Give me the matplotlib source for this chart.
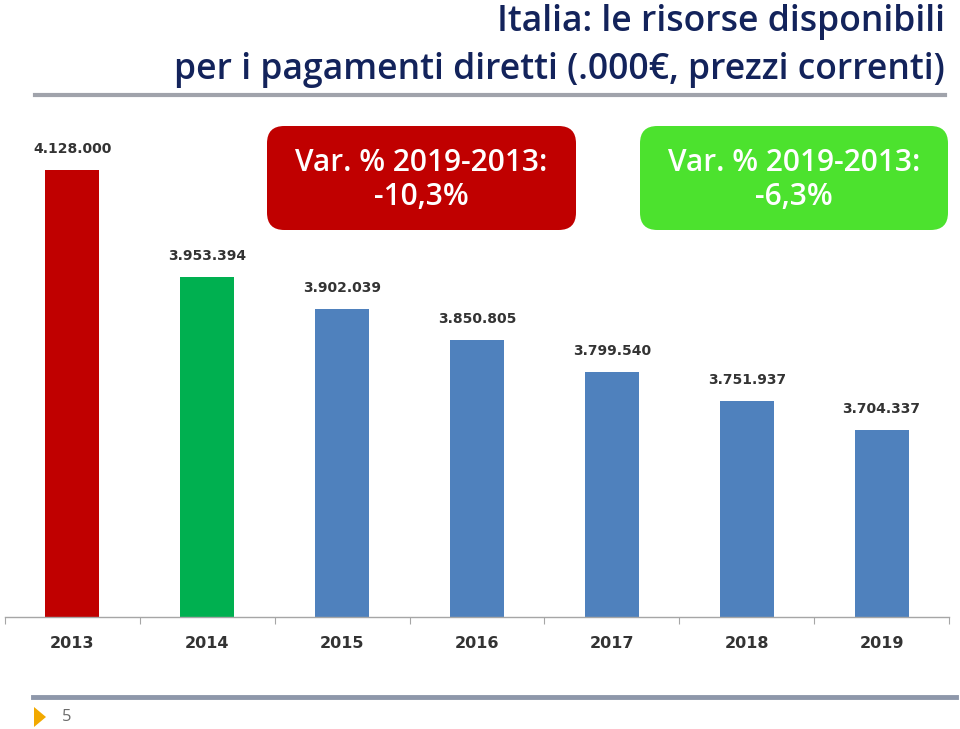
import matplotlib
matplotlib.use("Agg")
import matplotlib.pyplot as plt
from matplotlib.patches import FancyBboxPatch, Polygon
from matplotlib.lines import Line2D

years = ["2013", "2014", "2015", "2016", "2017", "2018", "2019"]
values = [4128000, 3953394, 3902039, 3850805, 3799540, 3751937, 3704337]
labels = ["4.128.000", "3.953.394", "3.902.039", "3.850.805", "3.799.540", "3.751.937", "3.704.337"]
bar_colors = ["#C00000", "#00B050", "#4F81BD", "#4F81BD", "#4F81BD", "#4F81BD", "#4F81BD"]
title_lines = ["Italia: le risorse disponibili", "per i pagamenti diretti (.000€, prezzi correnti)"]
box_texts = ["Var. % 2019-2013:\n-10,3%", "Var. % 2019-2013:\n-6,3%"]
box_colors = ["#C00000", "#4CE22E"]

W, H = 960, 729
fig = plt.figure(figsize=(W / 100, H / 100), dpi=100)

def fx(px):
    return px / W

def fy(py):
    return 1 - py / H

title_font = ["Open Sans", "DejaVu Sans"]

ax = fig.add_axes([fx(5), fy(617), fx(944), (617 - 126) / H])
x = list(range(len(years)))
ax.bar(x, values, width=0.4, color=bar_colors, edgecolor="none")
ax.set_ylim(3400000, 4200000)
ax.set_xlim(-0.5, len(years) - 0.5)
for xi, v, lab in zip(x, values, labels):
    ax.annotate(lab, (xi, v), xytext=(0, 10), textcoords="offset points",
                ha="center", va="bottom", fontsize=10, fontweight="bold", color="#333333")
for s in ["top", "right", "left"]:
    ax.spines[s].set_visible(False)
ax.spines["bottom"].set_color("#A6A6A6")
ax.spines["bottom"].set_linewidth(1.0)
ax.set_yticks([])
ax.set_xticks([i - 0.5 for i in range(len(years) + 1)], minor=False)
ax.set_xticklabels([])
ax.tick_params(axis="x", which="major", length=5, color="#A6A6A6", direction="out")
for xi, yr in zip(x, years):
    ax.text(xi, -0.054, yr, transform=ax.get_xaxis_transform(), ha="center", va="center",
            fontsize=11.5, fontweight="bold", color="#333333")

# Title
fig.text(fx(945), fy(31), title_lines[0], ha="right", va="baseline", fontsize=25.6,
         family=title_font, fontweight="semibold", color="#13235B")
fig.text(fx(945), fy(79), title_lines[1], ha="right", va="baseline", fontsize=25.6,
         family=title_font, fontweight="semibold", color="#13235B")
fig.add_artist(Line2D([fx(35), fx(945)], [fy(95), fy(95)], transform=fig.transFigure,
                      color="#A0A3AB", linewidth=3))

# Boxes
boxes = [(267, 126, 309, 104), (640, 126, 308, 104)]
for (bx, by, bw, bh), col, txt in zip(boxes, box_colors, box_texts):
    p = FancyBboxPatch((fx(bx), fy(by + bh)), fx(bw), bh / H,
                       boxstyle="round,pad=0,rounding_size=0.018",
                       transform=fig.transFigure, facecolor=col, edgecolor="none",
                       mutation_aspect=W / H)
    fig.add_artist(p)
    fig.text(fx(bx + bw / 2), fy(by + bh / 2 + 2), txt, ha="center", va="center",
             fontsize=21.5, color="white", family=["Open Sans", "DejaVu Sans"],
             fontweight="semibold", linespacing=1.2)

# Footer
fig.add_artist(Line2D([fx(33), fx(956)], [fy(697), fy(697)], transform=fig.transFigure,
                      color="#8E97AA", linewidth=3.5))
tri = Polygon([[fx(34), fy(707)], [fx(46), fy(717)], [fx(34), fy(727)]], closed=True,
              transform=fig.transFigure, facecolor="#F2A900", edgecolor="none")
fig.add_artist(tri)
fig.text(fx(67), fy(717), "5", ha="center", va="center", fontsize=12, color="#6B6B6B",
         family=title_font)

fig.savefig("out.png", dpi=100, facecolor="white")
